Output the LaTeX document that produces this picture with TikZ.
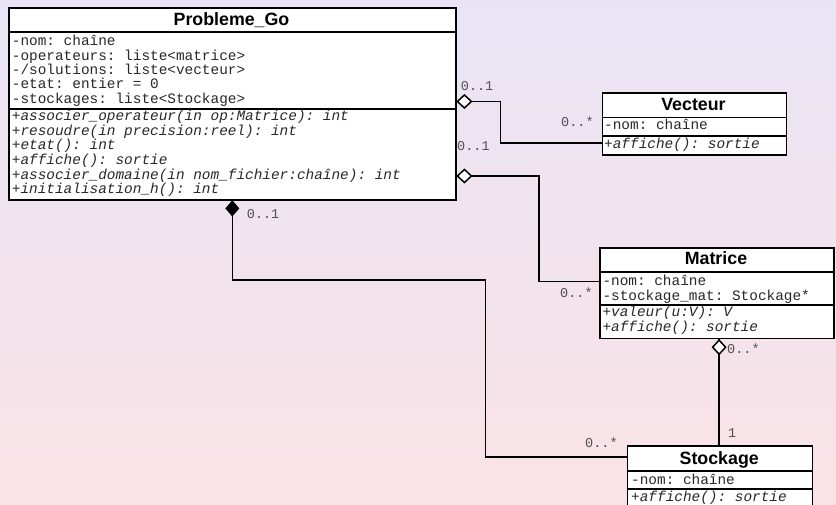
\documentclass[tikz,border=0pt]{standalone}
\usepackage{fontspec}
\setmainfont{Liberation Sans}
\newfontfamily\umlmono{Liberation Mono}
\definecolor{bgtop}{RGB}{233,228,245}
\definecolor{bgbot}{RGB}{250,227,230}
\definecolor{txt}{RGB}{40,40,40}
\definecolor{lblc}{RGB}{80,80,80}
\tikzset{
  classbox/.style={draw, line width=1.6bp, fill=white, inner sep=0pt, anchor=north west},
  sepline/.style={line width=1.6bp},
  ctitle/.style={font=\bfseries\fontsize{17.8bp}{17.8bp}\selectfont, anchor=base, inner sep=0pt},
  attr/.style={font=\umlmono\frenchspacing\fontsize{14.4bp}{14.4bp}\selectfont, text=txt, anchor=base west, inner sep=0pt},
  meth/.style={font=\umlmono\frenchspacing\itshape\fontsize{14.4bp}{14.4bp}\selectfont, text=txt, anchor=base west, inner sep=0pt},
  mult/.style={font=\umlmono\frenchspacing\fontsize{13.5bp}{13.5bp}\selectfont, text=lblc, anchor=base west, inner sep=0pt},
  conn/.style={line width=1.6bp},
  odia/.style={line width=1.5bp, fill=white, line join=miter},
  fdia/.style={line width=1.5bp, fill=black, line join=miter}
}
\begin{document}
\begin{tikzpicture}[x=1bp,y=-1bp]
\useasboundingbox (0,0) rectangle (836,505);
\clip (0,0) rectangle (836,505);
\shade[top color=bgtop, bottom color=bgbot] (0,0) rectangle (836,505);

% Probleme_Go
\node[classbox, minimum width=447bp, minimum height=192bp] (pg) at (8,7) {};
\draw[sepline] ([yshift=-25bp]pg.north west) -- ([yshift=-25bp]pg.north east);
\draw[sepline] ([yshift=-102bp]pg.north west) -- ([yshift=-102bp]pg.north east);
\node[ctitle] (pgt) at (231.5,26) {Probleme\_Go};
\foreach \t [count=\i] in {{-nom: chaîne},{-operateurs: liste<matrice>},{-/solutions: liste<vecteur>},{-etat: entier = 0},{-stockages: liste<Stockage>}}
  \node[attr] (pga\i) at (11.7,{46+14.3*(\i-1)}) {\t};
\foreach \t [count=\i] in {{+associer\_operateur(in op:Matrice): int},{+resoudre(in precision:reel): int},{+etat(): int},{+affiche(): sortie},{+associer\_domaine(in nom\_fichier:chaîne): int},{+initialisation\_h(): int}}
  \node[meth] (pgm\i) at (11.7,{120.5+14.7*(\i-1)}) {\t};

% Vecteur
\node[classbox, minimum width=184bp, minimum height=62bp] (vec) at (601.5,92) {};
\draw[sepline] ([yshift=-25.5bp]vec.north west) -- ([yshift=-25.5bp]vec.north east);
\draw[sepline] ([yshift=-44bp]vec.north west) -- ([yshift=-44bp]vec.north east);
\node[ctitle] (vect) at (693.5,110.5) {Vecteur};
\node[attr] (veca1) at (604,130) {-nom: chaîne};
\node[meth] (vecm1) at (604,148.3) {+affiche(): sortie};

% Matrice
\node[classbox, minimum width=234bp, minimum height=90.5bp] (mat) at (599,247.3) {};
\draw[sepline] ([yshift=-25bp]mat.north west) -- ([yshift=-25bp]mat.north east);
\draw[sepline] ([yshift=-57.7bp]mat.north west) -- ([yshift=-57.7bp]mat.north east);
\node[ctitle] (matt) at (716,265) {Matrice};
\node[attr] (mata1) at (602.3,285.7) {-nom: chaîne};
\node[attr] (mata2) at (602.3,301) {-stockage\_mat: Stockage*};
\node[meth] (matm1) at (602.3,316.7) {+valeur(u:V): V};
\node[meth] (matm2) at (602.3,331.7) {+affiche(): sortie};

% Stockage
\node[classbox, minimum width=185bp, minimum height=70bp] (sto) at (626.7,445) {};
\draw[sepline] ([yshift=-26bp]sto.north west) -- ([yshift=-26bp]sto.north east);
\draw[sepline] ([yshift=-44bp]sto.north west) -- ([yshift=-44bp]sto.north east);
\node[ctitle] (stot) at (719.2,464.3) {Stockage};
\node[attr] (stoa1) at (631,484.3) {-nom: chaîne};
\node[meth] (stom1) at (631,501.7) {+affiche(): sortie};

% connectors
\draw[conn] ([yshift=-94.5bp]pg.north east) -- ++(44,0) |- ([yshift=-51.3bp]vec.north west);
\draw[conn] ([yshift=-169bp]pg.north east) -- ++(82.3,0) |- ([yshift=-34bp]mat.north west);
\draw[conn] (pg.south) -- ++(0,79.3) -- ++(253,0) |- ([yshift=-11.7bp]sto.north west);
\draw[conn] ([xshift=2.3bp]mat.south) -- ([xshift=2.3bp]mat.south |- sto.north);

% diamonds
\draw[odia] ([xshift=0.8bp,yshift=-94.5bp]pg.north east) -- ++(7,-6.5) -- ++(7,6.5) -- ++(-7,6.5) -- cycle;
\draw[odia] ([xshift=0.8bp,yshift=-169bp]pg.north east) -- ++(7,-6.5) -- ++(7,6.5) -- ++(-7,6.5) -- cycle;
\draw[fdia] ([yshift=-0.8bp]pg.south) -- ++(-6,7) -- ++(6,7) -- ++(6,-7) -- cycle;
\draw[odia] ([xshift=2.3bp,yshift=-0.8bp]mat.south) -- ++(-6.5,7) -- ++(6.5,7) -- ++(6.5,-7) -- cycle;

% multiplicities
\node[mult] (m1) at (460.7,91) {0..1};
\node[mult] (m2) at (561,127) {0..*};
\node[mult] (m3) at (457,150.7) {0..1};
\node[mult] (m4) at (560,298) {0..*};
\node[mult] (m5) at (246.7,218.3) {0..1};
\node[mult] (m6) at (585,447.3) {0..*};
\node[mult] (m7) at (727,353.3) {0..*};
\node[mult] (m8) at (728,437.3) {1};
\end{tikzpicture}
\end{document}
